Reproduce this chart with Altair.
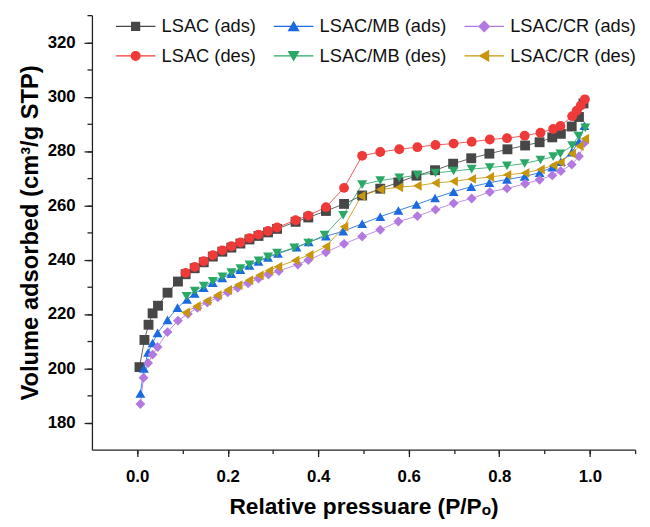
import altair as alt
import pandas as pd

# ---------------- data ----------------
series_names = ["LSAC (ads)", "LSAC/MB (ads)", "LSAC/CR (ads)",
                "LSAC (des)", "LSAC/MB (des)", "LSAC/CR (des)"]
series_colors = ["#474747", "#1a6ae0", "#b27ae0", "#f03a3a", "#2ba866", "#c8960c"]
series_shapes = ["square", "triangle-up", "diamond", "circle", "triangle-down", "triangle-left"]

lsac_ads_x = [0.005, 0.016, 0.025, 0.034, 0.046, 0.067, 0.09, 0.107, 0.127, 0.147, 0.167, 0.188,
              0.208, 0.228, 0.248, 0.268, 0.289, 0.309, 0.35, 0.378, 0.417, 0.457, 0.497, 0.537,
              0.577, 0.617, 0.658, 0.698, 0.738, 0.778, 0.818, 0.857, 0.889, 0.917, 0.936, 0.96,
              0.976, 0.986]
lsac_ads_y = [200.4, 210.4, 216.0, 220.2, 223.0, 227.8, 231.9, 234.6, 236.8, 239.0, 241.1, 242.9,
              244.4, 245.9, 247.4, 248.7, 250.0, 251.3, 253.9, 255.5, 257.9, 260.5, 263.6, 266.1,
              268.4, 270.9, 272.9, 275.3, 277.3, 279.0, 280.6, 282.0, 283.2, 285.0, 286.3, 289.0,
              292.5, 297.5]

mb_ads_x = [0.007, 0.015, 0.024, 0.034, 0.045, 0.067, 0.089, 0.11, 0.127, 0.147, 0.167, 0.188,
            0.208, 0.228, 0.248, 0.268, 0.289, 0.311, 0.352, 0.379, 0.417, 0.455, 0.497, 0.537,
            0.577, 0.617, 0.658, 0.699, 0.738, 0.778, 0.817, 0.856, 0.889, 0.917, 0.936, 0.96,
            0.976, 0.988]
mb_ads_y = [190.7, 199.9, 205.8, 209.3, 213.0, 217.8, 222.3, 225.3, 227.5, 229.6, 231.5, 233.2,
            234.8, 236.3, 237.8, 239.3, 240.8, 242.2, 244.5, 246.5, 248.6, 250.4, 253.2, 255.8,
            258.1, 260.3, 262.7, 265.0, 266.8, 268.3, 269.5, 270.6, 272.0, 274.0, 276.0, 279.5,
            283.5, 289.3]

cr_ads_x = [0.007, 0.014, 0.024, 0.034, 0.045, 0.067, 0.09, 0.112, 0.133, 0.155, 0.178, 0.2,
            0.222, 0.245, 0.268, 0.29, 0.313, 0.355, 0.378, 0.417, 0.457, 0.497, 0.537, 0.577,
            0.619, 0.659, 0.699, 0.739, 0.779, 0.817, 0.857, 0.889, 0.917, 0.936, 0.96, 0.976,
            0.988]
cr_ads_y = [186.8, 196.5, 201.9, 205.0, 207.8, 213.3, 217.5, 220.0, 222.2, 224.2, 226.1, 227.9,
            229.6, 231.3, 233.0, 234.5, 235.8, 238.2, 239.8, 242.7, 245.8, 248.5, 251.0, 254.0,
            256.0, 258.4, 260.7, 262.5, 264.9, 266.2, 267.9, 269.4, 271.0, 272.6, 275.0, 278.0,
            283.0]

lsac_des_x = [0.107, 0.127, 0.147, 0.167, 0.188, 0.208, 0.228, 0.248, 0.268, 0.289, 0.309, 0.35,
              0.378, 0.417, 0.457, 0.497, 0.537, 0.579, 0.619, 0.659, 0.699, 0.739, 0.779, 0.817,
              0.856, 0.891, 0.919, 0.935, 0.961, 0.971, 0.98, 0.989]
lsac_des_y = [235.1, 237.3, 239.4, 241.6, 243.4, 244.9, 246.3, 247.9, 249.2, 250.5, 251.8, 254.5,
              256.2, 259.3, 266.4, 278.2, 279.6, 280.6, 281.4, 282.2, 282.7, 283.4, 284.2, 284.7,
              285.6, 286.7, 288.1, 289.2, 292.8, 294.8, 296.7, 299.0]

mb_des_x = [0.109, 0.127, 0.147, 0.167, 0.188, 0.208, 0.228, 0.248, 0.268, 0.289, 0.309, 0.347,
            0.378, 0.414, 0.455, 0.497, 0.537, 0.579, 0.619, 0.659, 0.699, 0.739, 0.779, 0.817,
            0.856, 0.891, 0.919, 0.935, 0.961, 0.975, 0.99]
mb_des_y = [226.5, 228.4, 230.3, 232.0, 233.7, 235.2, 236.7, 238.1, 239.6, 241.0, 242.4, 244.3,
            246.1, 249.0, 256.3, 267.6, 269.1, 270.1, 271.1, 271.9, 272.6, 273.3, 273.9, 274.5,
            275.4, 276.7, 277.9, 279.0, 282.0, 285.5, 288.5]

cr_des_x = [0.107, 0.131, 0.154, 0.177, 0.2, 0.223, 0.247, 0.27, 0.291, 0.311, 0.349, 0.38,
            0.417, 0.457, 0.495, 0.537, 0.578, 0.619, 0.659, 0.699, 0.739, 0.779, 0.817, 0.857,
            0.891, 0.919, 0.935, 0.96, 0.977, 0.989]
cr_des_y = [220.5, 222.8, 224.8, 226.9, 228.8, 230.6, 232.4, 234.2, 235.9, 237.4, 239.7, 241.7,
            244.8, 252.1, 263.4, 265.8, 266.6, 267.2, 268.2, 268.8, 269.7, 270.4, 271.2, 271.9,
            273.2, 274.7, 275.8, 279.0, 281.8, 284.5]

x_major = [0.0, 0.2, 0.4, 0.6, 0.8, 1.0]
x_minor = [0.1, 0.3, 0.5, 0.7, 0.9, 1.1]
y_major = [180, 200, 220, 240, 260, 280, 300, 320]
y_minor = [190, 210, 230, 250, 270, 290, 310, 330]

# ---------------- build table ----------------
xs = [lsac_ads_x, mb_ads_x, cr_ads_x, lsac_des_x, mb_des_x, cr_des_x]
ys = [lsac_ads_y, mb_ads_y, cr_ads_y, lsac_des_y, mb_des_y, cr_des_y]
frames = []
for name, sx, sy in zip(series_names, xs, ys):
    frames.append(pd.DataFrame({"x": sx, "y": sy, "series": name}))
df = pd.concat(frames, ignore_index=True)
legend_df = pd.DataFrame({"series": series_names})

# legend symbols: a line through the marker
unit_paths = {
    "square": "M-1,-1H1V1H-1Z",
    "circle": "M-1.1,0A1.1,1.1,0,1,1,1.1,0A1.1,1.1,0,1,1,-1.1,0Z",
    "triangle-up": "M0,-1.1L1.25,1.1L-1.25,1.1Z",
    "triangle-down": "M0,1.1L1.25,-1.1L-1.25,-1.1Z",
    "triangle-left": "M-1.1,0L1.1,-1.25L1.1,1.25Z",
    "diamond": "M-1.3,0L0,-1.3L1.3,0L0,1.3Z",
}
legend_paths = ["M-5,0H5" + unit_paths[s] for s in series_shapes]

FONT = "Liberation Sans"
xscale = alt.Scale(domain=[-0.1, 1.1], nice=False, zero=False)
yscale = alt.Scale(domain=[170, 330], nice=False, zero=False)
cscale = alt.Scale(domain=series_names, range=series_colors)

minor_x_axis = alt.Axis(orient="bottom", values=x_minor + x_major, tickSize=4,
                        labels=False, domain=False, grid=False, title=None)
minor_y_axis = alt.Axis(orient="left", values=y_minor + y_major, tickSize=5,
                        labels=False, domain=False, grid=False, title=None)
major_x_axis = alt.Axis(orient="bottom", values=x_major, format=".1f", tickSize=7,
                        labelPadding=12, grid=False, labelFlush=False,
                        title="Relative pressuare (P/Pₒ)", titlePadding=12)
major_y_axis = alt.Axis(orient="left", values=y_major, tickSize=8, labelPadding=9,
                        grid=False, labelFlush=False,
                        title="Volume adsorbed (cm³/g STP)", titlePadding=5,
                        titleFontSize=24)

line_layers = []
point_layers = []
for i, (name, col, shp) in enumerate(zip(series_names, series_colors, series_shapes)):
    base = alt.Chart(df).transform_filter(alt.datum.series == name)
    if i == 0:
        lx = alt.X("x:Q", scale=xscale, axis=minor_x_axis)
        ly = alt.Y("y:Q", scale=yscale, axis=minor_y_axis)
        px = alt.X("x:Q", scale=xscale, axis=major_x_axis)
        py = alt.Y("y:Q", scale=yscale, axis=major_y_axis)
    else:
        lx = px = alt.X("x:Q", scale=xscale, axis=None)
        ly = py = alt.Y("y:Q", scale=yscale, axis=None)
    line_layers.append(
        base.mark_line(strokeWidth=1, color=col, opacity=0.85).encode(x=lx, y=ly, order="x:Q")
    )
    point_layers.append(
        base.mark_point(filled=True, size=100, opacity=1, shape=shp, color=col).encode(x=px, y=py)
    )

leg = alt.Legend(orient="none", legendX=35, legendY=2, columns=3, direction="horizontal",
                 title=None, labelFont=FONT, labelFontSize=18.5, labelColor="#111111",
                 symbolSize=64, symbolStrokeWidth=1.3, labelOffset=17,
                 columnPadding=14, rowPadding=11, symbolOpacity=1, padding=0,
                 symbolFillColor="#000000", symbolStrokeColor="#000000")

legend_layer = alt.Chart(legend_df).mark_point(filled=True, opacity=0, size=64).encode(
    fill=alt.Fill("series:N", scale=cscale, legend=leg),
    stroke=alt.Stroke("series:N", scale=cscale, legend=leg),
    shape=alt.Shape("series:N", scale=alt.Scale(domain=series_names, range=legend_paths),
                    legend=leg),
)

chart = alt.layer(*line_layers, *point_layers, legend_layer).resolve_axis(
    x="independent", y="independent"
).properties(
    width=550, height=440,
    padding={"left": 85, "top": 4, "right": 7, "bottom": 70},
    autosize=alt.AutoSizeParams(type="none"),
).configure_view(stroke=None).configure_axis(
    labelFont=FONT, labelFontWeight="bold", labelFontSize=17, labelColor="#000000",
    titleFont=FONT, titleFontWeight="bold", titleFontSize=23, titleColor="#000000",
    domainColor="#222222", tickColor="#222222", domainWidth=1.3, tickWidth=1.3,
)

chart.save("out.html", embed_options={"renderer": "svg", "actions": False})
